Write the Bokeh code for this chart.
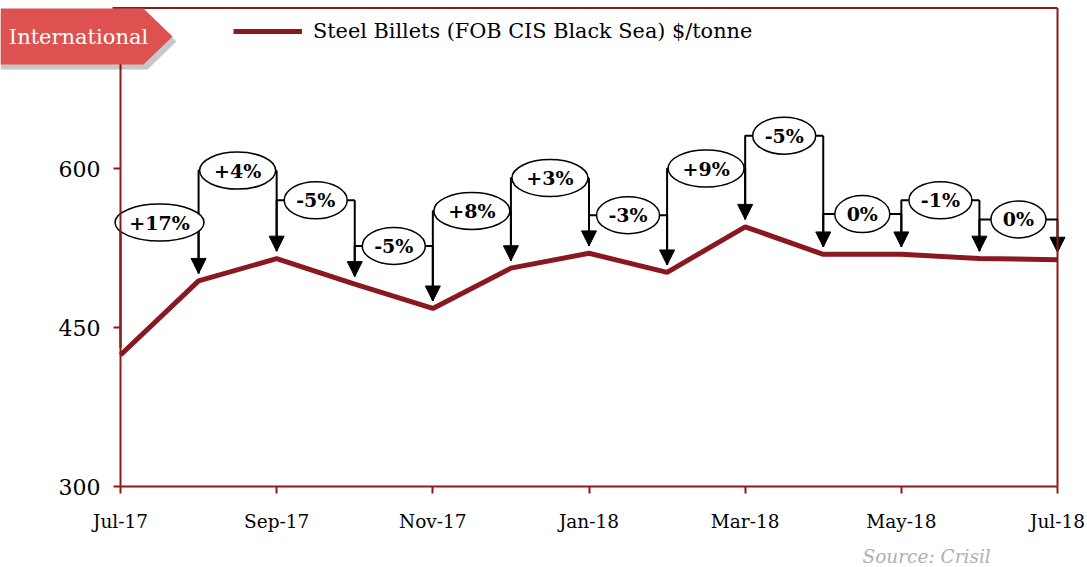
from bokeh.plotting import figure
from bokeh.models import (ColumnDataSource, Arrow, NormalHead, FixedTicker, Legend,
                          LegendItem, Label, PolyAnnotation, Range1d)
from bokeh.embed import file_html
from bokeh.resources import INLINE
from bokeh.core.properties import value

# ---- data ----
months = ["Jul-17", "Aug-17", "Sep-17", "Oct-17", "Nov-17", "Dec-17", "Jan-18",
          "Feb-18", "Mar-18", "Apr-18", "May-18", "Jun-18", "Jul-18"]
prices = [424, 494, 515, 491, 468, 506, 520, 502, 545, 519, 519, 515, 514]
change_labels = ["+17%", "+4%", "-5%", "-5%", "+8%", "+3%", "-3%", "+9%",
                 "-5%", "0%", "-1%", "0%"]
callout_levels = [549, 598, 570, 527, 560, 591, 556, 600, 631, 557, 570, 552]
y_ticks = [300, 450, 600]
x_tick_idx = [0, 2, 4, 6, 8, 10, 12]
series_name = "Steel Billets (FOB CIS Black Sea) $/tonne"
Y_MIN, Y_MAX = 300, 750

FONT = "DejaVu Serif"
AXIS_RED = "#8B1A1A"
LINE_RED = "#8A1820"

W, H = 1087, 567
# plot-area placement on the canvas (pixels)
LEFT_PX, RIGHT_PX, TOP_PX, BOTTOM_PX = 120, 1057, 9, 486
PXM = (RIGHT_PX - LEFT_PX) / 12.0          # pixels per month
PXU = (BOTTOM_PX - TOP_PX) / (Y_MAX - Y_MIN)  # pixels per $/t

p = figure(width=W, height=H,
           x_range=Range1d(-LEFT_PX / PXM, (W - LEFT_PX) / PXM),
           y_range=Range1d(Y_MIN - (H - BOTTOM_PX) / PXU, Y_MIN + BOTTOM_PX / PXU),
           output_backend="svg", toolbar_location=None,
           min_border_left=0, min_border_right=0, min_border_top=0, min_border_bottom=0)
p.xgrid.visible = False
p.ygrid.visible = False
p.outline_line_color = None
p.background_fill_color = "white"
p.border_fill_color = "white"

x = list(range(len(months)))

# frame top / right border
y_top = Y_MIN + (BOTTOM_PX - 7.5) / PXU
p.segment(x0=[-8 / PXM, 12], y0=[y_top, y_top], x1=[12, 12], y1=[y_top, Y_MIN],
          line_color=AXIS_RED, line_width=2)

line_r = p.line(x, prices, line_color=LINE_RED, line_width=5)

# ---- callouts ----
tip = 7
xs, ys = [], []
ax0, ay0, ax1, ay1 = [], [], [], []
mids, widths = [], []
for i, lab in enumerate(change_labels):
    h = callout_levels[i]
    xs.append([i, i, i + 1])
    ys.append([prices[i] + tip, h, h])
    ax0.append(i + 1); ay0.append(h); ax1.append(i + 1); ay1.append(prices[i + 1] + tip)
    mids.append(i + 0.5)
    nd = sum(c.isdigit() for c in lab)
    extra = 21 if lab.startswith("+") else (8 if lab.startswith("-") else 0)
    widths.append(42 + 13 * nd + extra)

p.multi_line(xs, ys, line_color="black", line_width=2)
asrc = ColumnDataSource(dict(x0=ax0, y0=ay0, x1=ax1, y1=ay1))
arr = Arrow(end=NormalHead(size=15, fill_color="black", line_color="black"),
            x_start="x0", y_start="y0", x_end="x1", y_end="y1", source=asrc,
            line_color="black", line_width=2, level="underlay")
p.add_layout(arr)

p.ellipse(x=mids, y=callout_levels, width=widths, height=37,
          width_units="screen", height_units="screen",
          fill_color="white", line_color="black", line_width=1.5)
p.text(x=mids, y=callout_levels, text=change_labels, text_align="center",
       text_baseline="middle", text_font=value(FONT), text_font_style="bold",
       text_font_size="19px", text_color="black")

# ---- axes (fixed inside the full-canvas frame) ----
for ax in (p.xaxis[0], p.yaxis[0]):
    ax.axis_line_color = AXIS_RED
    ax.axis_line_width = 2
    ax.major_tick_line_color = AXIS_RED
    ax.major_tick_line_width = 2
    ax.minor_tick_line_color = None
    ax.major_tick_in = 0
    ax.major_tick_out = 7
    ax.major_label_text_font = FONT
    ax.major_label_text_color = "black"
p.xaxis.fixed_location = Y_MIN
p.xaxis.bounds = (0, 12)
p.xaxis.ticker = FixedTicker(ticks=x_tick_idx)
p.xaxis.major_label_overrides = {i: months[i] for i in x_tick_idx}
p.xaxis.major_label_text_font_size = "18.5px"
p.xaxis.major_label_standoff = 17
p.yaxis.fixed_location = 0
p.yaxis.bounds = (Y_MIN, y_top)
p.yaxis.ticker = FixedTicker(ticks=y_ticks)
p.yaxis.major_label_text_font_size = "22px"
p.yaxis.major_label_standoff = 13

# ---- legend ----
legend = Legend(items=[LegendItem(label=series_name, renderers=[line_r])],
                location=(233, H - 31 - 12), border_line_color=None, background_fill_alpha=0,
                label_text_font=FONT, label_text_font_size="20.8px", label_text_color="black",
                glyph_width=69, glyph_height=24, padding=0, margin=0, label_standoff=11)
p.add_layout(legend)

# ---- badge ----
bt, bb = H - 8, H - 64
shadow = PolyAnnotation(xs=[0, 147, 176, 147, 0], ys=[bt - 5, bt - 5, (bt + bb) / 2 - 5, bb - 5, bb - 5],
                        xs_units="screen", ys_units="screen", fill_color="black", fill_alpha=0.22,
                        line_color=None)
badge = PolyAnnotation(xs=[0, 143, 172, 143, 0], ys=[bt, bt, (bt + bb) / 2, bb, bb],
                       xs_units="screen", ys_units="screen", fill_color="#DE5151", fill_alpha=1,
                       line_color=None)
p.add_layout(shadow)
p.add_layout(badge)
p.add_layout(Label(x=78, y=(bt + bb) / 2, x_units="screen", y_units="screen", text="International",
                   text_align="center", text_baseline="middle", text_color="white",
                   text_font=FONT, text_font_size="21px"))

# ---- source ----
p.add_layout(Label(x=862, y=H - 556, x_units="screen", y_units="screen", text="Source: Crisil",
                   text_baseline="middle", text_color="#B0B0B0", text_font=FONT,
                   text_font_style="italic", text_font_size="18.5px"))

open("out.html", "w").write(file_html(p, INLINE))
